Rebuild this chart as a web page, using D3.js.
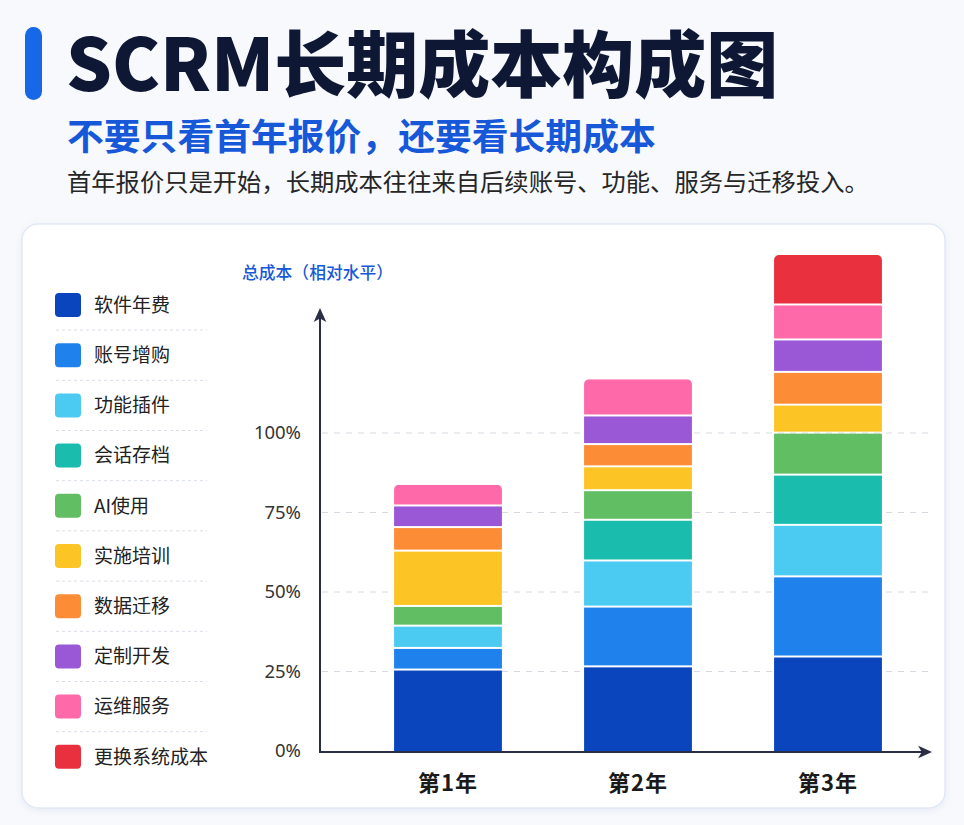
<!DOCTYPE html>
<html lang="zh">
<head>
<meta charset="UTF-8">
<title>SCRM长期成本构成图</title>
<script src="https://d3js.org/d3.v7.min.js"></script>
<style>
  html, body { margin: 0; padding: 0; background: #f7f9fc; }
  svg { display: block; font-family: "Noto Sans CJK SC", "Noto Sans", sans-serif; }
</style>
</head>
<body>
<div id="chart"></div>
<script>
// data
const years = ['第1年', '第2年', '第3年']
const categories = ['软件年费', '账号增购', '功能插件', '会话存档', 'AI使用',
  '实施培训', '数据迁移', '定制开发', '运维服务', '更换系统成本']
const colors = ['#0a45bd', '#1f82ec', '#4ccbf2', '#1abcad', '#62be62',
  '#fdc425', '#fd8c37', '#9a58d6', '#fd69a9', '#e8303f']
const year1 = [25.3, 6.8, 7.0, 0, 6.2, 17.4, 7.4, 6.8, 6.8, 0]
const year2 = [26.3, 18.8, 14.5, 12.8, 9.3, 7.5, 7.0, 9.0, 11.7, 0]
const year3 = [29.4, 25.2, 16.2, 15.8, 13.2, 8.8, 10.3, 10.2, 11.0, 15.9]
const yTicks = [0, 25, 50, 75, 100]

const width = 964
const height = 825

const rows = [year1, year2, year3].map((vals, i) => {
  const r = { year: years[i] }
  categories.forEach((c, j) => r[c] = vals[j])
  return r
})

const svg = d3.select('#chart').append('svg')
  .attr('width', width)
  .attr('height', height)

// header
svg.append('rect')
  .attr('x', 25).attr('y', 27)
  .attr('width', 17).attr('height', 73)
  .attr('rx', 8.5)
  .attr('fill', '#1668e8')

svg.append('text')
  .attr('x', 66).attr('y', 91)
  .attr('font-size', 72)
  .attr('font-weight', 900)
  .attr('fill', '#0e1733')
  .text('SCRM长期成本构成图')

svg.append('text')
  .attr('x', 67).attr('y', 150)
  .attr('font-size', 36.8)
  .attr('font-weight', 700)
  .attr('fill', '#1658d8')
  .text('不要只看首年报价，还要看长期成本')

svg.append('text')
  .attr('x', 67).attr('y', 191)
  .attr('font-size', 24.3)
  .attr('fill', '#262626')
  .text('首年报价只是开始，长期成本往往来自后续账号、功能、服务与迁移投入。')

// card
const defs = svg.append('defs')
const shadow = defs.append('filter').attr('id', 'shadow')
  .attr('x', '-5%').attr('y', '-5%').attr('width', '110%').attr('height', '110%')
shadow.append('feDropShadow')
  .attr('dx', 0).attr('dy', 2).attr('stdDeviation', 3)
  .attr('flood-color', '#9fb0d0').attr('flood-opacity', 0.18)

svg.append('rect')
  .attr('x', 22).attr('y', 224)
  .attr('width', 923).attr('height', 584)
  .attr('rx', 16)
  .attr('fill', '#ffffff')
  .attr('stroke', '#e2e9f5')
  .attr('stroke-width', 1.5)
  .attr('filter', 'url(#shadow)')

// legend
const legend = svg.append('g').attr('transform', 'translate(55, 305)')
const rowH = 50.2

const item = legend.selectAll('g.item')
  .data(categories)
  .join('g')
  .attr('class', 'item')
  .attr('transform', (_, i) => `translate(0, ${i * rowH})`)

item.append('rect')
  .attr('x', 0).attr('y', -12)
  .attr('width', 26).attr('height', 24)
  .attr('rx', 4)
  .attr('fill', (_, i) => colors[i])

item.append('text')
  .attr('x', 39).attr('y', 0)
  .attr('dy', '0.36em')
  .attr('font-size', 19)
  .attr('fill', '#222')
  .text(d => d)

item.filter((_, i) => i < categories.length - 1)
  .append('line')
  .attr('x1', 1).attr('x2', 152)
  .attr('y1', rowH / 2).attr('y2', rowH / 2)
  .attr('stroke', '#d9dde4')
  .attr('stroke-dasharray', '3,3')

// scales
const x = d3.scaleBand()
  .domain(years)
  .range([353, 923])
  .paddingInner(0.432)
  .paddingOuter(0.216)

const y = d3.scaleLinear()
  .domain([0, 100])
  .range([751, 433])

const axisX0 = 320
const axisColor = '#2a2f45'

// gridlines
svg.append('g')
  .selectAll('line')
  .data(yTicks.filter(d => d > 0))
  .join('line')
  .attr('x1', axisX0 + 2).attr('x2', x.range()[1] + 9)
  .attr('y1', d => y(d)).attr('y2', d => y(d))
  .attr('stroke', '#d6dae0')
  .attr('stroke-width', 1)
  .attr('stroke-dasharray', '6,6')

// y tick labels
const yAxis = svg.append('g')
  .attr('transform', `translate(${axisX0}, 0)`)
  .call(d3.axisLeft(y).tickValues(yTicks).tickSize(0).tickPadding(19).tickFormat(d => d + '%'))
yAxis.select('.domain').remove()
yAxis.selectAll('text')
  .attr('font-size', 18.5)
  .attr('font-family', '"Noto Sans", sans-serif')
  .attr('fill', '#333')

svg.append('text')
  .attr('x', 242).attr('y', 279)
  .attr('font-size', 16.8)
  .attr('font-weight', 500)
  .attr('fill', '#1658d8')
  .text('总成本（相对水平）')

// stacked bars
const series = d3.stack().keys(categories)(rows)
const totals = rows.map(r => d3.sum(categories, c => r[c]))

const clips = defs.selectAll('clipPath')
  .data(years)
  .join('clipPath')
  .attr('id', (_, i) => `bar-clip-${i}`)
clips.append('rect')
  .attr('x', d => x(d))
  .attr('y', (_, i) => y(totals[i]))
  .attr('width', x.bandwidth())
  .attr('height', (_, i) => y(0) - y(totals[i]) + 10)
  .attr('rx', 5)

const bars = svg.append('g')
years.forEach((yr, i) => {
  const g = bars.append('g').attr('clip-path', `url(#bar-clip-${i})`)
  g.selectAll('rect')
    .data(series.map((s, j) => ({ seg: s[i], color: colors[j] })).filter(d => d.seg[1] - d.seg[0] > 0))
    .join('rect')
    .attr('x', x(yr))
    .attr('width', x.bandwidth())
    .attr('y', d => y(d.seg[1]))
    .attr('height', d => Math.max(0, y(d.seg[0]) - y(d.seg[1]) - (d.seg[0] > 0 ? 2 : 0)))
    .attr('fill', d => d.color)
})

// axis lines with arrows
defs.append('marker')
  .attr('id', 'arrow')
  .attr('viewBox', '0 0 10 10')
  .attr('refX', 7).attr('refY', 5)
  .attr('markerWidth', 14).attr('markerHeight', 14)
  .attr('markerUnits', 'userSpaceOnUse')
  .attr('orient', 'auto')
  .append('path')
  .attr('d', 'M0,0.5 L10,5 L0,9.5 L2.5,5 Z')
  .attr('fill', axisColor)

svg.append('path')
  .attr('d', `M${axisX0},${y(0) + 1} L${axisX0},${y(138)}`)
  .attr('stroke', axisColor)
  .attr('stroke-width', 2)
  .attr('fill', 'none')
  .attr('marker-end', 'url(#arrow)')

svg.append('path')
  .attr('d', `M${axisX0 - 1},${y(0) + 1} L${x.range()[1] + 5},${y(0) + 1}`)
  .attr('stroke', axisColor)
  .attr('stroke-width', 2)
  .attr('fill', 'none')
  .attr('marker-end', 'url(#arrow)')

// x labels
svg.append('g')
  .selectAll('text')
  .data(years)
  .join('text')
  .attr('x', d => x(d) + x.bandwidth() / 2)
  .attr('y', 783)
  .attr('dy', '0.36em')
  .attr('text-anchor', 'middle')
  .attr('font-size', 22)
  .attr('font-weight', 700)
  .attr('letter-spacing', 1)
  .attr('fill', '#1a1a1a')
  .text(d => d)
</script>
</body>
</html>
